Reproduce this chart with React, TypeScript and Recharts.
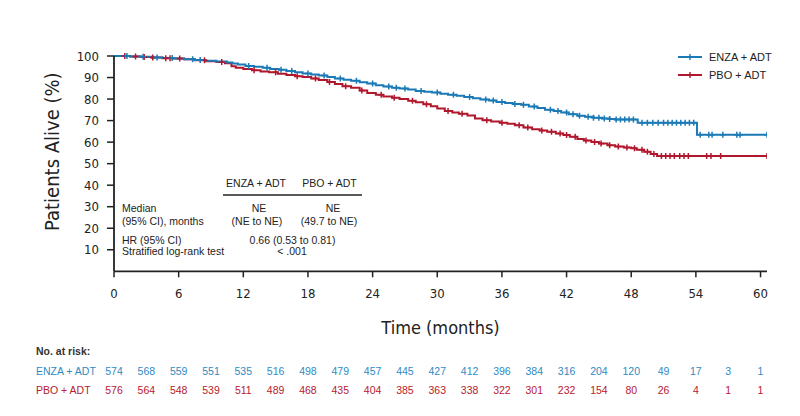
import React from 'react';
import { LineChart, Line, XAxis, YAxis } from 'recharts';

const BLUE = '#1b7ab6';
const RED = '#b1172c';
const BLUE_TEXT = '#2f8ac4';
const RED_TEXT = '#b8202f';
const INK = '#222222';
const NARROW = "'Liberation Sans Narrow', 'DejaVu Sans Condensed', 'DejaVu Sans', sans-serif";
const SANS = "'Liberation Sans', Arial, sans-serif";

// axis ticks
const xLabelTicks = [0, 6, 12, 18, 24, 30, 36, 42, 48, 54, 60];
const yTicks = [10, 20, 30, 40, 50, 60, 70, 80, 90, 100];

// number at risk, every 3 months
const riskTimes = [0, 3, 6, 9, 12, 15, 18, 21, 24, 27, 30, 33, 36, 39, 42, 45, 48, 51, 54, 57, 60];
const enzaRisk = [574, 568, 559, 551, 535, 516, 498, 479, 457, 445, 427, 412, 396, 384, 316, 204, 120, 49, 17, 3, 1];
const pboRisk = [576, 564, 548, 539, 511, 489, 468, 435, 404, 385, 363, 338, 322, 301, 232, 154, 80, 26, 4, 1, 1];

// KM steps: [month, % alive]
const enzaSteps = [
  [0, 100], [1.5, 99.8], [2.5, 99.6], [3.5, 99.3], [4.5, 99.1], [5.5, 98.8], [6.5, 98.5],
  [7.5, 98.1], [8.5, 97.8], [9.5, 97.4], [10.5, 97.0], [11.0, 96.5], [11.5, 96.0], [12.2, 95.4],
  [13.0, 95.0], [13.8, 94.5], [14.5, 94.0], [15.3, 93.6], [16.0, 93.0], [16.8, 92.5], [17.5, 91.9],
  [18.3, 91.4], [19.0, 90.9], [19.8, 90.2], [20.5, 89.6], [21.3, 89.0], [22.0, 88.5], [22.8, 87.8],
  [23.5, 87.2], [24.3, 86.4], [25.0, 85.8], [25.8, 85.2], [26.5, 84.9], [27.3, 84.4], [28.0, 83.8],
  [28.8, 83.4], [29.5, 83.0], [30.3, 82.5], [31.0, 82.0], [31.8, 81.5], [32.5, 81.0], [33.3, 80.4],
  [34.0, 79.8], [34.8, 79.3], [35.5, 78.6], [36.3, 78.2], [37.0, 77.7], [37.8, 77.3], [38.5, 76.6],
  [39.3, 75.8], [40.0, 75.0], [40.8, 74.4], [41.5, 73.8], [42.2, 73.0], [43.0, 72.3], [43.7, 71.8],
  [44.5, 71.3], [45.3, 71.0], [46.0, 70.7], [46.5, 70.5], [48.6, 69.0], [54.1, 63.4], [60.6, 63.4],
];
const enzaCensor = [
  1.2, 2.7, 4.0, 5.4, 7.3, 8.0, 12.5, 14.2, 15.5, 16.5, 18.0, 19.5, 21.0, 22.5, 24.0, 25.5, 26.2,
  27.0, 28.5, 30.0, 31.5, 33.0, 34.5, 35.2, 36.0, 37.2, 38.0, 39.0, 40.5, 41.2, 42.0, 42.6, 43.2,
  44.0, 44.5, 45.0, 45.5, 46.0, 46.6, 47.0, 47.4, 47.8, 48.2, 49.0, 49.5, 50.0, 50.5, 51.0, 51.4,
  51.8, 52.2, 52.6, 53.0, 53.4, 53.8, 54.4, 55.2, 55.5, 56.5, 57.8, 58.1, 60.6,
];

const pboSteps = [
  [0, 100], [1.5, 99.8], [2.5, 99.5], [3.5, 99.3], [4.5, 99.0], [5.5, 98.8], [6.5, 98.5],
  [7.5, 98.0], [8.5, 97.6], [9.5, 97.2], [10.3, 96.6], [10.9, 95.2], [11.3, 94.6], [12.0, 94.0],
  [12.8, 93.4], [13.6, 92.8], [14.4, 92.4], [15.2, 91.8], [16.0, 91.2], [16.8, 90.6], [17.5, 90.2],
  [18.3, 89.6], [19.0, 88.8], [19.8, 87.9], [20.5, 87.0], [21.2, 86.0], [22.0, 85.2], [22.8, 84.0],
  [23.5, 82.8], [24.3, 82.0], [25.0, 81.2], [25.8, 80.6], [26.5, 80.0], [27.3, 79.2], [28.0, 78.5],
  [28.7, 77.6], [29.4, 76.7], [30.0, 75.6], [30.7, 74.5], [31.4, 73.8], [32.0, 73.2], [32.8, 72.4],
  [33.5, 71.0], [34.2, 70.2], [35.0, 69.6], [35.8, 69.0], [36.5, 68.5], [37.2, 67.8], [38.0, 66.8],
  [38.8, 66.0], [39.5, 65.4], [40.2, 64.8], [41.0, 64.0], [41.7, 63.3], [42.3, 62.5], [43.0, 61.5],
  [43.6, 60.8], [44.3, 60.0], [45.0, 59.4], [45.8, 58.6], [46.5, 58.0], [47.3, 57.5], [48.0, 57.2],
  [48.5, 56.5], [49.2, 55.5], [49.8, 54.5], [50.4, 53.5], [60.6, 53.5],
];
const pboCensor = [
  1.0, 2.0, 2.8, 3.6, 4.8, 5.2, 6.1, 8.4, 10.0, 13.0, 15.0, 17.0, 18.7, 20.0, 21.5, 23.0, 24.8,
  26.0, 27.7, 29.0, 31.0, 32.3, 34.6, 36.0, 37.6, 38.4, 39.7, 40.6, 41.4, 42.0, 42.8, 43.8, 44.6,
  45.2, 46.0, 46.8, 47.6, 48.3, 49.0, 49.5, 50.1, 50.8, 51.2, 51.6, 52.0, 52.5, 52.9, 53.3, 55.0,
  55.4, 56.3, 60.6,
];

function buildSeries(steps: number[][], censor: number[]) {
  const rows = steps.map(([t, s]) => ({ t, s, c: false }));
  censor.forEach((ct) => {
    const same = rows.find((r) => r.t === ct);
    if (same) {
      same.c = true;
      return;
    }
    let s = steps[0][1];
    for (const [t, v] of steps) if (t <= ct) s = v;
    rows.push({ t: ct, s, c: true });
  });
  return rows.sort((a, b) => a.t - b.t);
}

const enzaData = buildSeries(enzaSteps, enzaCensor);
const pboData = buildSeries(pboSteps, pboCensor);

const censorDot = (color: string) => (props: any) => {
  const { cx, cy, payload, index } = props;
  if (!payload || !payload.c) return <g key={`n-${index}`} />;
  return (
    <path
      key={`c-${index}`}
      d={`M${cx - 3},${cy}H${cx + 3}M${cx},${cy - 3}V${cy + 3}`}
      stroke={color}
      strokeWidth={1.5}
      fill="none"
    />
  );
};

// one tick every 3 months: tick mark + label on multiples of 6, at-risk numbers below
const TimeTick = (props: any) => {
  const { x, y, payload } = props;
  const v = payload.value;
  const i = riskTimes.indexOf(v);
  const labelled = xLabelTicks.includes(v);
  return (
    <g>
      {labelled && <line x1={x} x2={x} y1={y} y2={y + 6} stroke={INK} strokeWidth={1.5} />}
      {labelled && (
        <text x={x} y={y + 21.7} textAnchor="middle" dominantBaseline="central" fontFamily={NARROW} fontSize={13} fill={INK}>
          {v}
        </text>
      )}
      {i === 0 && (
        <>
          <text x={36} y={y + 80} dominantBaseline="central" fontFamily={SANS} fontSize={10.5} fontWeight="bold" fill="#333">
            No. at risk:
          </text>
          <text x={36} y={y + 100} dominantBaseline="central" fontFamily={SANS} fontSize={10.5} fill={BLUE_TEXT}>
            ENZA + ADT
          </text>
          <text x={36} y={y + 119} dominantBaseline="central" fontFamily={SANS} fontSize={10.5} fill={RED_TEXT}>
            PBO + ADT
          </text>
        </>
      )}
      <text x={x} y={y + 100} textAnchor="middle" dominantBaseline="central" fontFamily={SANS} fontSize={10.5} fill={BLUE_TEXT}>
        {enzaRisk[i]}
      </text>
      <text x={x} y={y + 119} textAnchor="middle" dominantBaseline="central" fontFamily={SANS} fontSize={10.5} fill={RED_TEXT}>
        {pboRisk[i]}
      </text>
    </g>
  );
};

const legendItems = [
  { name: 'ENZA + ADT', color: BLUE },
  { name: 'PBO + ADT', color: RED },
];

function Overlay() {
  const t = { fontFamily: SANS, fontSize: 10.5, fill: INK, dominantBaseline: 'central' as const };
  return (
    <svg width={800} height={416} style={{ position: 'absolute', left: 0, top: 0, pointerEvents: 'none' }}>
      {legendItems.map((it, i) => (
        <g key={it.name}>
          <line x1={678} x2={702} y1={57 + i * 18} y2={57 + i * 18} stroke={it.color} strokeWidth={2} />
          <path d={`M687,${57 + i * 18}h6M690,${54 + i * 18}v6`} stroke={it.color} strokeWidth={1.4} />
          <text x={709} y={57 + i * 18} {...t} fontSize={11}>{it.name}</text>
        </g>
      ))}
      <text x={256} y={182.7} textAnchor="middle" {...t}>ENZA + ADT</text>
      <text x={329.5} y={182.7} textAnchor="middle" {...t}>PBO + ADT</text>
      <line x1={223} x2={362} y1={195} y2={195} stroke={INK} strokeWidth={1.5} />
      <text x={122} y={208.3} {...t}>Median</text>
      <text x={122} y={221} {...t}>(95% CI), months</text>
      <text x={259} y={208.3} textAnchor="middle" {...t}>NE</text>
      <text x={257} y={221} textAnchor="middle" {...t}>(NE to NE)</text>
      <text x={333} y={208.3} textAnchor="middle" {...t}>NE</text>
      <text x={329} y={221} textAnchor="middle" {...t}>(49.7 to NE)</text>
      <text x={122} y={240} {...t}>HR (95% CI)</text>
      <text x={292.5} y={240} textAnchor="middle" {...t}>0.66 (0.53 to 0.81)</text>
      <text x={122} y={251} {...t}>Stratified log-rank test</text>
      <text x={292} y={251} textAnchor="middle" {...t}>&lt; .001</text>
    </svg>
  );
}

export default function App() {
  return (
    <div style={{ position: 'absolute', left: 0, top: 0, width: 800, height: 416, background: '#fff' }}>
      <LineChart width={800} height={416} margin={{ top: 56, right: 33, left: 0, bottom: 0 }}>
        <XAxis
          xAxisId="time"
          dataKey="t"
          type="number"
          domain={[0, 60.6]}
          allowDataOverflow
          ticks={riskTimes}
          interval={0}
          height={144.7}
          tickSize={0}
          tickMargin={0}
          axisLine={{ stroke: INK, strokeWidth: 1.8 }}
          tickLine={false}
          tick={TimeTick}
          label={{
            content: (p: any) => (
              <text
                x={p.viewBox.x + p.viewBox.width / 2}
                y={p.viewBox.y + 56}
                textAnchor="middle"
                dominantBaseline="central"
                fontFamily={NARROW}
                fontSize={18}
                fill={INK}
              >
                Time (months)
              </text>
            ),
          }}
        />
        <YAxis
          type="number"
          domain={[0, 100]}
          ticks={yTicks}
          interval={0}
          width={114}
          tickSize={7}
          tickMargin={8}
          axisLine={{ stroke: INK, strokeWidth: 1.8 }}
          tickLine={{ stroke: INK, strokeWidth: 1.5 }}
          tick={{ fontFamily: NARROW, fontSize: 13, fill: INK }}
          label={{
            content: (p: any) => (
              <text
                x={52}
                y={p.viewBox.y + p.viewBox.height / 2 - 12}
                transform={`rotate(-90, 52, ${p.viewBox.y + p.viewBox.height / 2 - 12})`}
                textAnchor="middle"
                dominantBaseline="central"
                fontFamily={NARROW}
                fontSize={20}
                fill={INK}
              >
                Patients Alive (%)
              </text>
            ),
          }}
        />
        <Line
          xAxisId="time"
          data={pboData}
          dataKey="s"
          type="stepAfter"
          stroke={RED}
          strokeWidth={2}
          dot={censorDot(RED)}
          activeDot={false}
          isAnimationActive={false}
        />
        <Line
          xAxisId="time"
          data={enzaData}
          dataKey="s"
          type="stepAfter"
          stroke={BLUE}
          strokeWidth={2}
          dot={censorDot(BLUE)}
          activeDot={false}
          isAnimationActive={false}
        />
      </LineChart>
      <Overlay />
    </div>
  );
}
